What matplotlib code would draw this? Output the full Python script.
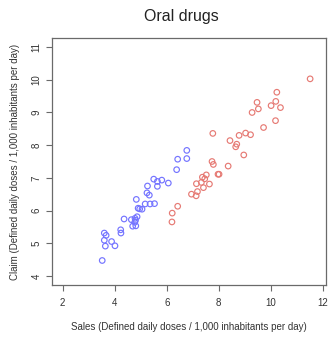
import matplotlib
matplotlib.use("Agg")
import matplotlib.pyplot as plt

plt.rcParams['font.family'] = ['Liberation Sans', 'DejaVu Sans']

# oral drugs: sales vs claim, two groups
blue_sales = [3.52, 3.60, 3.67, 3.60, 3.64, 3.88, 4.01, 4.23, 4.24, 4.36,
              4.64, 4.69, 4.81, 4.77, 4.78, 4.86, 4.80, 4.83, 4.90, 4.96,
              5.05, 5.17, 5.36, 5.53, 5.24, 5.33, 5.26, 5.50, 5.64, 5.64,
              5.81, 6.06, 6.38, 6.42, 6.77, 6.77]
blue_claim = [4.47, 5.31, 5.24, 5.09, 4.91, 5.05, 4.92, 5.41, 5.31, 5.74,
              5.72, 5.52, 5.53, 5.64, 5.76, 5.81, 5.70, 6.34, 6.07, 6.05,
              6.04, 6.20, 6.20, 6.21, 6.54, 6.47, 6.75, 6.96, 6.89, 6.74,
              6.93, 6.84, 7.25, 7.57, 7.59, 7.84]

red_sales = [6.20, 6.21, 6.42, 6.95, 7.13, 7.18, 7.14, 7.33, 7.41, 7.37,
             7.52, 7.46, 7.64, 7.74, 7.79, 7.97, 8.01, 8.36, 7.77, 8.43,
             8.69, 8.65, 8.78, 8.96, 9.03, 9.22, 9.28, 9.47, 9.52, 9.72,
             10.01, 10.19, 10.37, 10.18, 10.23, 11.51]
red_claim = [5.65, 5.92, 6.13, 6.50, 6.45, 6.58, 6.82, 6.86, 6.70, 7.02,
             7.09, 6.97, 6.81, 7.50, 7.41, 7.11, 7.11, 7.36, 8.36, 8.14,
             8.03, 7.95, 8.30, 7.70, 8.37, 8.32, 9.00, 9.31, 9.11, 8.54,
             9.21, 9.34, 9.15, 8.75, 9.62, 10.03]

x_ticks = [2, 4, 6, 8, 10, 12]
y_ticks = [4, 5, 6, 7, 8, 9, 10, 11]

fig = plt.figure(figsize=(3.34, 3.45), dpi=100)
ax = fig.add_axes([52 / 334, 1 - 285 / 345, 274 / 334, 247 / 345])

ax.scatter(blue_sales, blue_claim, s=16, facecolors='none',
           edgecolors='#7474ff', linewidths=0.85)
ax.scatter(red_sales, red_claim, s=16, facecolors='none',
           edgecolors='#e67a74', linewidths=0.85)

ax.set_xlim(1.59, 12.12)
ax.set_ylim(3.72, 11.28)
ax.set_xticks(x_ticks)
ax.set_yticks(y_ticks)
ax.set_xticklabels([str(t) for t in x_ticks])
ax.set_yticklabels([str(t) for t in y_ticks], rotation=90, va='center')

for sp in ax.spines.values():
    sp.set_color('#6a6a6a')
    sp.set_linewidth(0.9)
ax.tick_params(length=4.5, width=0.8, color='#6a6a6a', labelsize=7,
               labelcolor='#333333')
ax.tick_params(axis='x', pad=5)
ax.tick_params(axis='y', pad=3)

ax.set_xlabel('Sales (Defined daily doses / 1,000 inhabitants per day)',
              fontsize=7, color='#333333', labelpad=10)
ax.set_ylabel('Claim (Defined daily doses / 1,000 inhabitants per day)',
              fontsize=7, color='#333333', labelpad=8)
fig.text(181 / 334, 1 - 17 / 345, 'Oral drugs', ha='center', va='center',
         fontsize=11.5, color='#222222')

fig.savefig('out.png', dpi=100)
